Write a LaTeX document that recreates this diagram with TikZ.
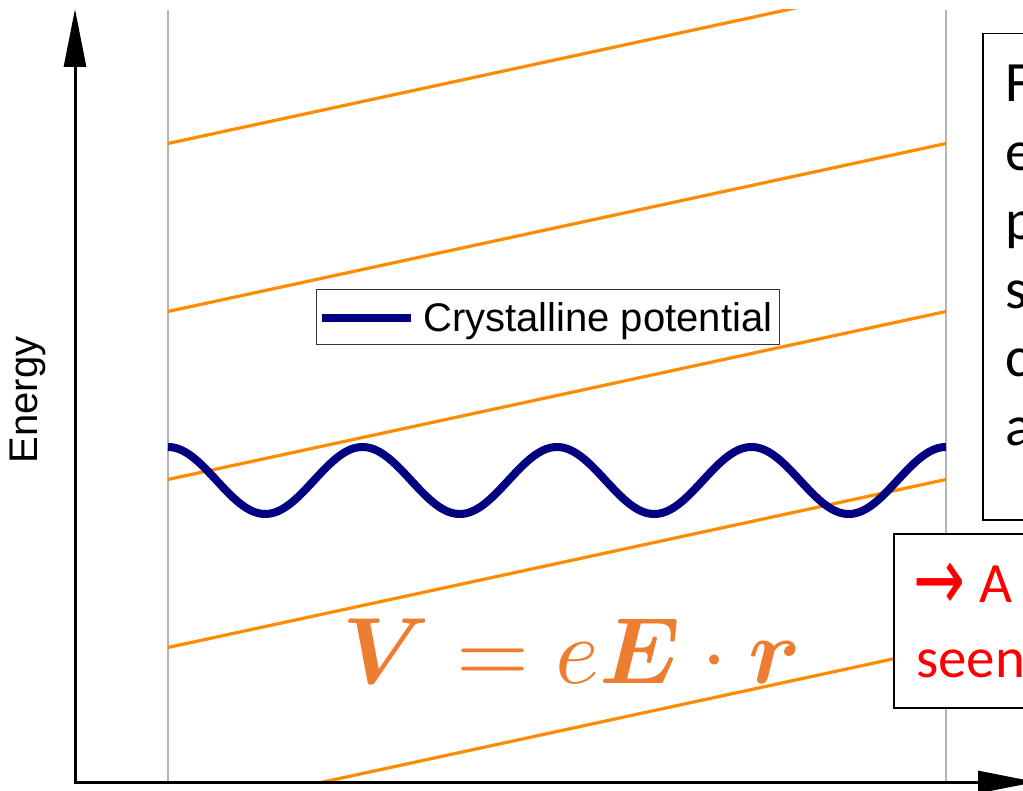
\documentclass[tikz,border=0pt]{standalone}
\usepackage{fontspec}
\usepackage{amsmath}
\usepackage{graphicx}
\setmainfont{Liberation Sans}
\newfontfamily\calfont{Carlito}
\newfontfamily\dvfont{DejaVu Sans}
\usetikzlibrary{arrows.meta}
\definecolor{bandorange}{HTML}{FF8C00}
\definecolor{formulaorange}{HTML}{ED7D31}
\definecolor{potnavy}{HTML}{000080}
\definecolor{guidegray}{HTML}{B4B4B4}
\tikzset{
  axisline/.style={line width=3pt, -{Triangle[length=58pt,width=22pt]}},
  guide/.style={draw=guidegray, line width=1.5pt},
  field/.style={draw=bandorange, line width=3.2pt},
  potential/.style={draw=potnavy, line width=8pt},
  textbox/.style={draw=black, line width=1.5pt, fill=white},
  bigtext/.style={font=\calfont\fontsize{57}{68}\selectfont, inner sep=0pt},
}
\begin{document}
\begin{tikzpicture}[x=1pt,y=-1pt]
\useasboundingbox (0,0) rectangle (1023,791);
\clip (0,0) rectangle (1023,791);
% guides
\coordinate (gl1) at (168,10); \coordinate (gl2) at (168,783);
\coordinate (gr1) at (946,10); \coordinate (gr2) at (946,783);
\draw[guide] (gl1) -- (gl2);
\draw[guide] (gr1) -- (gr2);
% field lines
\begin{scope}
\clip (168,10) rectangle (946,783);
\foreach \k in {0,...,4} {
  \coordinate (fa\k) at (168,{143.5+168*\k});
  \coordinate (fb\k) at (946,{143.5+168*\k-168});
  \draw[field] (fa\k) -- (fb\k);
}
\end{scope}
% crystalline potential
\draw[potential] plot[domain=0:778, samples=300, smooth] ({168+\x},{480.5-33.5*cos(1.8509*\x)});
% legend
\node[draw=black!80, line width=1pt, fill=white, minimum width=463pt, minimum height=55pt, inner sep=0pt] (legend) at (547.5,317.5) {};
\coordinate (ls1) at (322,318); \coordinate (ls2) at (411,318);
\draw[potnavy, line width=8pt] (ls1) -- (ls2);
\node[anchor=base west, inner sep=0pt, font=\fontsize{40}{48}\selectfont] (legtext) at (423,332) {Crystalline potential};
% formula
\node[text=formulaorange, inner sep=0pt] (formula) at (572,651) {\resizebox{459pt}{!}{$\boldsymbol{V} = e\boldsymbol{E}\cdot\boldsymbol{r}$}};
% axes
\coordinate (o) at (75,782);
\coordinate (ytop) at (75,9);
\coordinate (xend) at (1036,782);
\draw[axisline] (75,784) -- (ytop);
\draw[axisline] (73.5,782) -- (xend);
\node[rotate=90, font=\fontsize{40}{48}\selectfont, inner sep=0pt] (energy) at (28,400) {Energy};
% text box 1
\node[textbox, anchor=north west, minimum width=200pt, minimum height=486pt, inner sep=0pt] (box1) at (982,33) {};
\foreach \t [count=\i from 0] in {F,e,p,s,c,a} {
  \node[bigtext, anchor=base west] (b1l\i) at (1005,{102+68.7*\i}) {\t};
}
% text box 2
\node[textbox, anchor=north west, minimum width=200pt, minimum height=174pt, inner sep=0pt] (box2) at (893,533) {};
\node[bigtext, anchor=base west, text=red] (b2l1) at (913,602) {\raisebox{-8pt}{\scalebox{1}[1.45]{\dvfont\fontsize{62}{66}\selectfont →}}\hspace{14pt}A};
\node[bigtext, anchor=base west, text=red] (b2l2) at (916,677) {seen};
\end{tikzpicture}
\end{document}
